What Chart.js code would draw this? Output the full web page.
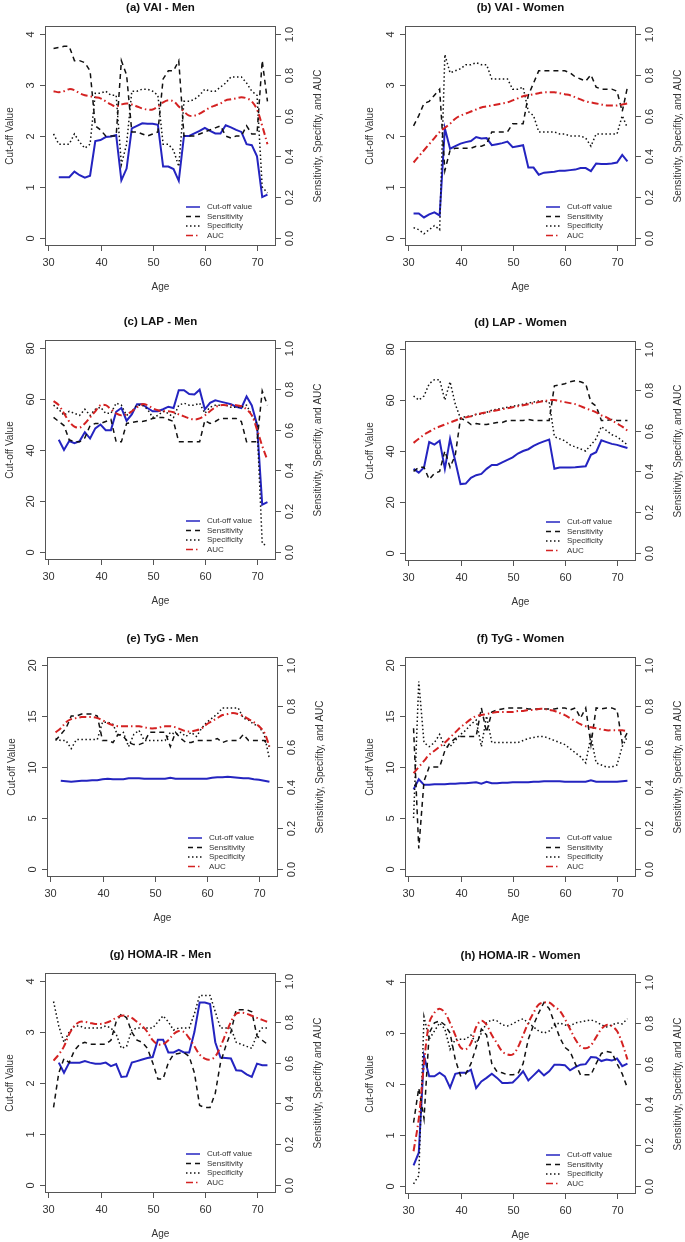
<!DOCTYPE html>
<html>
<head>
<meta charset="utf-8">
<script src="https://cdn.jsdelivr.net/npm/chart.js@4.4.1/dist/chart.umd.min.js"></script>
<style>
  html, body { margin: 0; padding: 0; background: #fff; }
  #wrap { position: relative; width: 685px; height: 1242px; overflow: hidden; }
  #wrap canvas { position: absolute; }
</style>
</head>
<body>
<div id="wrap"></div>
<script>
// ages on the x axis (one point per year)
const ages = [31,32,33,34,35,36,37,38,39,40,41,42,43,44,45,46,47,48,49,50,51,
              52,53,54,55,56,57,58,59,60,61,62,63,64,65,66,67,68,69,70,71,72];

const xTicks = [30, 40, 50, 60, 70];
const rightTicks = [0, 0.2, 0.4, 0.6, 0.8, 1.0];
const ticksVai = [0, 1, 2, 3, 4];
const ticksLap = [0, 20, 40, 60, 80];
const ticksTyg = [0, 5, 10, 15, 20];
const ticksHoma = [0, 1, 2, 3, 4];

const seriesLabels = ['Cut-off value', 'Sensitivity', 'Specificity', 'AUC'];
const rightTitle = 'Sensitivity, Specifity, and AUC';
const rightTitleG = 'Sensitivity, Specifity and AUC';

// (a) VAI - Men
const vaiMenCut  = [null,1.19,1.19,1.19,1.3,1.23,1.18,1.22,1.9,1.92,1.98,1.99,2.02,1.13,1.36,2.15,2.2,2.25,2.24,2.24,2.22,1.4,1.4,1.35,1.12,2.0,2.0,2.05,2.1,2.16,2.1,2.05,2.05,2.21,2.17,2.12,2.08,1.84,1.82,1.6,0.8,0.85];
const vaiMenSens = [0.93,0.935,0.94,0.94,0.87,0.87,0.86,0.82,0.55,0.53,0.5,0.5,0.5,0.87,0.8,0.52,0.52,0.51,0.5,0.51,0.52,0.78,0.82,0.82,0.87,0.5,0.5,0.5,0.51,0.52,0.53,0.54,0.55,0.5,0.49,0.5,0.5,0.55,0.51,0.51,0.87,0.67];
const vaiMenSpec = [0.51,0.46,0.46,0.46,0.51,0.47,0.44,0.46,0.71,0.71,0.72,0.7,0.7,0.36,0.46,0.72,0.72,0.73,0.73,0.72,0.7,0.46,0.46,0.43,0.35,0.67,0.67,0.68,0.7,0.73,0.72,0.72,0.74,0.76,0.79,0.79,0.79,0.76,0.72,0.7,0.25,0.22];
const vaiMenAuc  = [0.72,0.715,0.72,0.73,0.725,0.71,0.7,0.695,0.69,0.685,0.67,0.655,0.645,0.655,0.66,0.655,0.645,0.635,0.63,0.63,0.645,0.665,0.675,0.67,0.645,0.62,0.6,0.6,0.61,0.625,0.64,0.65,0.66,0.675,0.68,0.685,0.69,0.685,0.67,0.63,0.55,0.46];

// (b) VAI - Women
const vaiWomenCut  = [0.48,0.48,0.4,0.46,0.5,0.44,2.15,1.75,1.8,1.85,1.88,1.9,1.98,1.95,1.96,1.82,1.84,1.86,1.89,1.78,1.8,1.82,1.38,1.38,1.24,1.28,1.29,1.3,1.32,1.32,1.33,1.34,1.37,1.37,1.31,1.46,1.45,1.45,1.46,1.48,1.63,1.5];
const vaiWomenSens = [0.55,0.6,0.66,0.67,0.7,0.73,0.33,0.43,0.44,0.44,0.44,0.44,0.45,0.45,0.46,0.52,0.52,0.52,0.52,0.56,0.56,0.56,0.7,0.76,0.82,0.82,0.82,0.82,0.82,0.82,0.81,0.79,0.78,0.77,0.8,0.74,0.73,0.73,0.73,0.72,0.62,0.74];
const vaiWomenSpec = [0.05,0.04,0.02,0.04,0.06,0.04,0.9,0.81,0.82,0.83,0.85,0.85,0.86,0.85,0.85,0.78,0.78,0.78,0.78,0.73,0.73,0.74,0.62,0.6,0.52,0.52,0.52,0.52,0.51,0.51,0.5,0.5,0.5,0.49,0.45,0.51,0.51,0.51,0.51,0.51,0.6,0.54];
const vaiWomenAuc  = [0.37,0.4,0.43,0.46,0.49,0.52,0.54,0.56,0.585,0.6,0.61,0.62,0.63,0.64,0.645,0.65,0.655,0.66,0.665,0.675,0.685,0.695,0.7,0.705,0.71,0.715,0.715,0.715,0.71,0.705,0.7,0.69,0.68,0.67,0.665,0.66,0.655,0.65,0.65,0.65,0.655,0.66];

// (c) LAP - Men
const lapMenCut  = [null,44,40,43.5,42.7,43.5,47,44.5,48.5,50,47.8,47.8,55,56.5,51.5,54,58,58,56.5,55.2,55.2,56,57,56.5,63.5,63.5,62,61.8,63.7,56,58.5,59.5,59,58.5,58,57,56.5,61,57.5,50,18.5,19.5];
const lapMenSens = [0.66,0.64,0.62,0.55,0.54,0.54,0.56,0.62,0.63,0.63,0.64,0.65,0.54,0.54,0.63,0.635,0.64,0.64,0.645,0.655,0.66,0.66,0.65,0.64,0.54,0.54,0.54,0.54,0.54,0.645,0.63,0.64,0.655,0.655,0.655,0.655,0.64,0.54,0.54,0.54,0.79,0.72];
const lapMenSpec = [0.72,0.7,0.67,0.69,0.68,0.67,0.7,0.67,0.7,0.71,0.68,0.68,0.73,0.72,0.67,0.69,0.72,0.72,0.7,0.66,0.67,0.69,0.68,0.66,0.72,0.73,0.72,0.72,0.73,0.68,0.71,0.72,0.72,0.72,0.71,0.71,0.71,0.72,0.67,0.63,0.04,0.03];
const lapMenAuc  = [0.74,0.72,0.68,0.64,0.615,0.61,0.63,0.66,0.69,0.72,0.72,0.7,0.68,0.67,0.675,0.69,0.71,0.725,0.72,0.705,0.695,0.69,0.69,0.685,0.675,0.665,0.655,0.65,0.655,0.67,0.69,0.71,0.72,0.72,0.72,0.72,0.715,0.7,0.67,0.6,0.52,0.45];

// (d) LAP - Women
const lapWomenCut  = [33,31.5,33.5,43.5,42.5,44,33,44.8,36,27,27.2,29.5,30.5,31,33,34.5,34.5,35.5,36.5,37.5,39,40,40.7,42,43,43.8,44.5,33,33.5,33.5,33.5,33.6,33.8,34,38.5,39.5,44.2,43.5,42.8,42.4,41.8,41.2];
const lapWomenSens = [0.4,0.42,0.42,0.36,0.39,0.4,0.5,0.42,0.48,0.66,0.65,0.63,0.635,0.63,0.63,0.635,0.64,0.64,0.65,0.65,0.65,0.65,0.655,0.65,0.65,0.65,0.65,0.82,0.825,0.83,0.84,0.845,0.84,0.83,0.74,0.72,0.65,0.65,0.655,0.65,0.65,0.65];
const lapWomenSpec = [0.77,0.75,0.77,0.83,0.85,0.85,0.75,0.84,0.73,0.66,0.67,0.67,0.68,0.68,0.69,0.7,0.705,0.71,0.715,0.72,0.725,0.73,0.735,0.74,0.745,0.745,0.74,0.57,0.56,0.55,0.53,0.52,0.51,0.5,0.53,0.56,0.62,0.6,0.58,0.57,0.55,0.53];
const lapWomenAuc  = [0.54,0.56,0.58,0.595,0.61,0.62,0.63,0.64,0.65,0.66,0.665,0.67,0.68,0.685,0.69,0.695,0.7,0.705,0.71,0.715,0.72,0.725,0.73,0.735,0.74,0.745,0.75,0.75,0.745,0.74,0.735,0.73,0.72,0.71,0.7,0.69,0.675,0.665,0.65,0.635,0.62,0.6];

// (e) TyG - Men
const tygMenCut  = [null,8.65,8.6,8.55,8.6,8.65,8.65,8.7,8.7,8.8,8.85,8.8,8.8,8.8,8.9,8.9,8.9,8.85,8.85,8.85,8.85,8.85,8.95,8.85,8.85,8.85,8.85,8.85,8.85,8.85,8.95,9.0,9.0,9.05,9.0,8.95,8.9,8.9,8.8,8.75,8.65,8.55];
const tygMenSens = [0.63,0.66,0.69,0.75,0.75,0.76,0.76,0.76,0.75,0.63,0.63,0.62,0.66,0.65,0.62,0.61,0.61,0.62,0.67,0.67,0.67,0.67,0.6,0.67,0.64,0.62,0.62,0.63,0.63,0.63,0.63,0.64,0.62,0.63,0.63,0.63,0.66,0.63,0.63,0.63,0.63,0.6];
const tygMenSpec = [0.64,0.63,0.63,0.59,0.635,0.635,0.635,0.635,0.635,0.72,0.72,0.71,0.65,0.67,0.6,0.66,0.68,0.63,0.63,0.63,0.63,0.63,0.67,0.66,0.67,0.65,0.67,0.65,0.69,0.72,0.74,0.76,0.79,0.79,0.79,0.79,0.74,0.73,0.71,0.7,0.66,0.54];
const tygMenAuc  = [0.67,0.69,0.72,0.735,0.74,0.745,0.745,0.745,0.74,0.73,0.715,0.705,0.7,0.7,0.7,0.7,0.7,0.695,0.69,0.69,0.695,0.7,0.7,0.695,0.685,0.675,0.675,0.68,0.69,0.71,0.725,0.74,0.755,0.76,0.765,0.76,0.75,0.735,0.72,0.7,0.67,0.6];

// (f) TyG - Women
const tygWomenCut  = [7.8,8.8,8.25,8.25,8.3,8.3,8.3,8.35,8.35,8.4,8.4,8.45,8.5,8.35,8.55,8.4,8.4,8.45,8.45,8.5,8.5,8.5,8.5,8.55,8.55,8.6,8.6,8.6,8.6,8.55,8.55,8.55,8.55,8.55,8.7,8.55,8.55,8.55,8.55,8.55,8.6,8.65];
const tygWomenSens = [0.69,0.1,0.43,0.5,0.5,0.5,0.58,0.62,0.64,0.65,0.65,0.65,0.65,0.79,0.67,0.77,0.78,0.785,0.79,0.79,0.79,0.79,0.785,0.785,0.785,0.785,0.785,0.785,0.79,0.79,0.78,0.79,0.74,0.79,0.61,0.79,0.785,0.79,0.79,0.78,0.62,0.67];
const tygWomenSpec = [0.25,0.92,0.62,0.6,0.62,0.66,0.6,0.6,0.63,0.66,0.68,0.71,0.73,0.6,0.75,0.62,0.62,0.62,0.62,0.62,0.62,0.63,0.64,0.645,0.65,0.65,0.64,0.63,0.62,0.61,0.59,0.57,0.55,0.52,0.65,0.52,0.51,0.5,0.5,0.51,0.6,0.65];
const tygWomenAuc  = [0.47,0.5,0.53,0.56,0.58,0.6,0.62,0.645,0.67,0.695,0.715,0.735,0.75,0.755,0.76,0.765,0.77,0.77,0.77,0.77,0.775,0.775,0.78,0.78,0.785,0.785,0.78,0.775,0.765,0.755,0.74,0.725,0.71,0.7,0.695,0.69,0.685,0.68,0.68,0.68,0.68,0.675];

// (g) HOMA-IR - Men
const homaMenCut  = [null,2.4,2.2,2.4,2.4,2.4,2.43,2.4,2.38,2.38,2.4,2.33,2.37,2.12,2.13,2.4,2.43,2.46,2.49,2.51,2.85,2.85,2.6,2.6,2.65,2.6,2.6,3.0,3.58,3.58,3.55,2.8,2.5,2.49,2.48,2.25,2.24,2.17,2.12,2.38,2.35,2.35];
const homaMenSens = [0.38,0.55,0.62,0.6,0.66,0.69,0.7,0.69,0.69,0.69,0.69,0.71,0.8,0.84,0.82,0.75,0.71,0.7,0.67,0.6,0.52,0.52,0.6,0.64,0.645,0.65,0.63,0.55,0.39,0.38,0.38,0.45,0.6,0.68,0.75,0.86,0.86,0.86,0.85,0.73,0.71,0.69];
const homaMenSpec = [0.9,0.78,0.7,0.75,0.78,0.78,0.77,0.77,0.77,0.77,0.78,0.77,0.74,0.67,0.68,0.76,0.77,0.77,0.77,0.77,0.8,0.83,0.8,0.76,0.77,0.77,0.77,0.84,0.93,0.93,0.93,0.85,0.77,0.77,0.77,0.7,0.69,0.68,0.67,0.74,0.77,0.77];
const homaMenAuc  = [0.61,0.64,0.68,0.74,0.78,0.8,0.8,0.795,0.79,0.79,0.795,0.805,0.82,0.83,0.83,0.82,0.8,0.78,0.75,0.71,0.69,0.69,0.71,0.74,0.755,0.75,0.72,0.68,0.64,0.62,0.615,0.63,0.68,0.74,0.8,0.84,0.845,0.84,0.83,0.82,0.81,0.8];

// (h) HOMA-IR - Women
const homaWomenCut  = [0.4,0.65,2.55,2.15,2.15,2.22,2.15,1.93,2.2,2.22,2.22,2.28,1.92,2.05,2.12,2.2,2.12,2.02,2.02,2.03,2.13,2.25,2.07,2.17,2.27,2.17,2.25,2.38,2.38,2.37,2.27,2.33,2.38,2.39,2.53,2.52,2.45,2.48,2.46,2.5,2.35,2.4];
const homaWomenSens = [0.31,0.48,0.33,0.75,0.8,0.81,0.79,0.75,0.62,0.54,0.55,0.6,0.68,0.77,0.74,0.6,0.56,0.555,0.545,0.545,0.55,0.6,0.72,0.79,0.85,0.9,0.87,0.8,0.73,0.68,0.66,0.6,0.545,0.545,0.545,0.6,0.65,0.66,0.655,0.6,0.55,0.48];
const homaWomenSpec = [0.01,0.05,0.83,0.72,0.76,0.8,0.77,0.67,0.72,0.72,0.72,0.74,0.7,0.75,0.8,0.815,0.81,0.79,0.785,0.795,0.81,0.82,0.8,0.78,0.76,0.75,0.76,0.79,0.8,0.79,0.785,0.8,0.805,0.81,0.815,0.805,0.79,0.78,0.79,0.8,0.795,0.82];
const homaWomenAuc  = [0.17,0.33,0.6,0.8,0.85,0.87,0.85,0.8,0.74,0.68,0.67,0.7,0.78,0.81,0.79,0.74,0.7,0.66,0.645,0.645,0.68,0.74,0.8,0.85,0.89,0.9,0.9,0.88,0.86,0.82,0.77,0.72,0.685,0.675,0.69,0.73,0.77,0.79,0.785,0.76,0.7,0.62];

const panels = [
  { title: '(a) VAI - Men',       yTicks: ticksVai,  right: rightTitle,  series: [vaiMenCut, vaiMenSens, vaiMenSpec, vaiMenAuc] },
  { title: '(b) VAI - Women',     yTicks: ticksVai,  right: rightTitle,  series: [vaiWomenCut, vaiWomenSens, vaiWomenSpec, vaiWomenAuc] },
  { title: '(c) LAP - Men',       yTicks: ticksLap,  right: rightTitle,  series: [lapMenCut, lapMenSens, lapMenSpec, lapMenAuc] },
  { title: '(d) LAP - Women',     yTicks: ticksLap,  right: rightTitle,  series: [lapWomenCut, lapWomenSens, lapWomenSpec, lapWomenAuc] },
  { title: '(e) TyG - Men',       yTicks: ticksTyg,  right: rightTitle,  series: [tygMenCut, tygMenSens, tygMenSpec, tygMenAuc] },
  { title: '(f) TyG - Women',     yTicks: ticksTyg,  right: rightTitle,  series: [tygWomenCut, tygWomenSens, tygWomenSpec, tygWomenAuc] },
  { title: '(g) HOMA-IR - Men',   yTicks: ticksHoma, right: rightTitleG, series: [homaMenCut, homaMenSens, homaMenSpec, homaMenAuc] },
  { title: '(h) HOMA-IR - Women', yTicks: ticksHoma, right: rightTitle,  series: [homaWomenCut, homaWomenSens, homaWomenSpec, homaWomenAuc] }
];

// where each panel sits on the page
const slots = [
  { left: 0, top: 0 },   { left: 360, top: 0 },
  { left: 0, top: 314 }, { left: 360, top: 315 },
  { left: 2, top: 631 }, { left: 360, top: 631 },
  { left: 0, top: 947 }, { left: 360, top: 948 }
];

const lineStyles = [
  { color: '#2424c0', width: 2,   dash: [] },
  { color: '#111111', width: 1.5, dash: [5, 4] },
  { color: '#111111', width: 1.5, dash: [1.5, 2.5] },
  { color: '#d42222', width: 2,   dash: [7, 3, 1.5, 3] }
];

const FONT = '"Liberation Sans", Arial, Helvetica, sans-serif';

// R uses a 4% padding around the data range
function padRange(ticks) {
  const lo = Math.min(...ticks), hi = Math.max(...ticks);
  const d = (hi - lo) * 0.04;
  return { min: lo - d, max: hi + d };
}

// draws the R style frame: box, outward ticks, rotated y labels, titles and legend
const rFrame = {
  id: 'rFrame',
  afterDraw(chart, args, opts) {
    const ctx = chart.ctx;
    const a = chart.chartArea;
    const sx = chart.scales.x, sy = chart.scales.y, sy1 = chart.scales.y1;
    ctx.save();
    ctx.setLineDash([]);
    ctx.strokeStyle = '#555';
    ctx.lineWidth = 1;
    ctx.strokeRect(a.left + 0.5, a.top + 0.5, a.right - a.left - 1, a.bottom - a.top - 1);

    const seg = (x1, y1, x2, y2) => {
      ctx.beginPath(); ctx.moveTo(x1, y1); ctx.lineTo(x2, y2); ctx.stroke();
    };
    const rot = (txt, x, y) => {
      ctx.save(); ctx.translate(x, y); ctx.rotate(-Math.PI / 2); ctx.fillText(txt, 0, 0); ctx.restore();
    };

    ctx.fillStyle = '#333';
    ctx.textAlign = 'center';
    ctx.textBaseline = 'middle';
    ctx.font = '11px ' + FONT;

    sx.ticks.forEach(t => {
      const px = Math.round(sx.getPixelForValue(t.value)) + 0.5;
      seg(px, a.bottom, px, a.bottom + 5);
      ctx.fillText(String(t.value), px, a.bottom + 17);
    });
    sy.ticks.forEach(t => {
      const py = Math.round(sy.getPixelForValue(t.value)) + 0.5;
      seg(a.left - 5, py, a.left, py);
      rot(String(t.value), a.left - 14, py);
    });
    sy1.ticks.forEach(t => {
      const py = Math.round(sy1.getPixelForValue(t.value)) + 0.5;
      seg(a.right, py, a.right + 5, py);
      rot(t.value.toFixed(1), a.right + 14, py);
    });

    const midY = (a.top + a.bottom) / 2;
    const midX = (a.left + a.right) / 2;
    ctx.font = '10px ' + FONT;
    rot('Cut-off Value', a.left - 35, midY);
    rot(opts.rightTitle, a.right + 42, midY);
    ctx.fillText('Age', midX, a.bottom + 41);

    ctx.fillStyle = '#111';
    ctx.font = 'bold 11.5px ' + FONT;
    ctx.fillText(opts.title, midX, 8);

    // legend, bottom right inside the box
    ctx.font = '8px ' + FONT;
    ctx.textAlign = 'left';
    ctx.fillStyle = '#333';
    chart.data.datasets.forEach((ds, i) => {
      const y = a.bottom - 39 + i * 9.5;
      ctx.strokeStyle = ds.borderColor;
      ctx.lineWidth = Math.min(ds.borderWidth, 1.5);
      ctx.setLineDash(ds.borderDash);
      seg(a.left + 141, y, a.left + 155, y);
      ctx.fillText(ds.label, a.left + 162, y);
    });
    ctx.restore();
  }
};

const wrap = document.getElementById('wrap');

panels.forEach((p, k) => {
  const canvas = document.createElement('canvas');
  canvas.width = 325;
  canvas.height = 294;
  canvas.style.left = slots[k].left + 'px';
  canvas.style.top = slots[k].top + 'px';
  wrap.appendChild(canvas);

  const datasets = p.series.map((vals, i) => ({
    label: seriesLabels[i],
    data: ages.map((age, j) => ({ x: age, y: vals[j] })),
    yAxisID: i === 0 ? 'y' : 'y1',
    borderColor: lineStyles[i].color,
    borderWidth: lineStyles[i].width,
    borderDash: lineStyles[i].dash,
    borderCapStyle: 'butt',
    pointRadius: 0,
    fill: false,
    tension: i === 3 ? 0.35 : 0,
    order: 3 - i
  }));

  const xr = padRange(ages);
  const yr = padRange(p.yTicks);
  const y1r = padRange(rightTicks);

  new Chart(canvas, {
    type: 'line',
    data: { datasets: datasets },
    options: {
      responsive: false,
      animation: false,
      events: [],
      layout: { padding: { top: 26, left: 0, right: 0, bottom: 0 } },
      plugins: {
        legend: { display: false },
        tooltip: { enabled: false },
        rFrame: { title: p.title, rightTitle: p.right }
      },
      scales: {
        x: {
          type: 'linear', min: xr.min, max: xr.max,
          afterBuildTicks: s => { s.ticks = xTicks.map(v => ({ value: v })); },
          afterFit: s => { s.height = 48; },
          grid: { display: false }, border: { display: false }, ticks: { display: false }
        },
        y: {
          type: 'linear', position: 'left', min: yr.min, max: yr.max,
          afterBuildTicks: s => { s.ticks = p.yTicks.map(v => ({ value: v })); },
          afterFit: s => { s.width = 45; },
          grid: { display: false }, border: { display: false }, ticks: { display: false }
        },
        y1: {
          type: 'linear', position: 'right', min: y1r.min, max: y1r.max,
          afterBuildTicks: s => { s.ticks = rightTicks.map(v => ({ value: v })); },
          afterFit: s => { s.width = 49; },
          grid: { display: false }, border: { display: false }, ticks: { display: false }
        }
      }
    },
    plugins: [rFrame]
  });
});
</script>
</body>
</html>
